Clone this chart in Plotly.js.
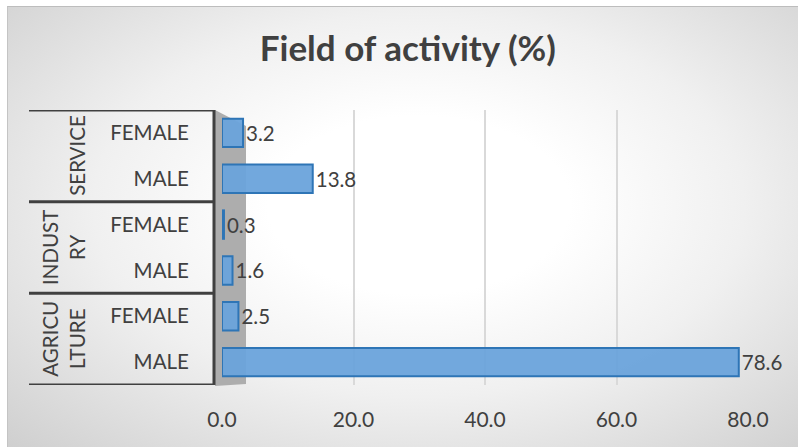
<!DOCTYPE html>
<html>
<head>
<meta charset="utf-8">
<script src="https://cdn.plot.ly/plotly-3.0.1.min.js"></script>
<style>
html,body{margin:0;padding:0;background:#ffffff;}
#wrap{position:relative;width:798px;height:447px;overflow:hidden;}
#bg{position:absolute;left:7px;top:6px;width:791px;height:441px;box-sizing:border-box;
border-top:1px solid #bdbdbd;border-left:1px solid #c4c4c4;
background:radial-gradient(ellipse at 52% 45%, #ffffff 0%, #ffffff 26%, #f0f0f0 56%, #cfcfcf 100%);}
#chart{position:absolute;left:0;top:0;width:798px;height:447px;}
</style>
</head>
<body>
<div id="wrap"><div id="bg"></div><div id="chart"></div></div>
<script>
const sectors = ['AGRICU<br>LTURE', 'INDUST<br>RY', 'SERVICE'];
const genders = ['MALE', 'FEMALE', 'MALE', 'FEMALE', 'MALE', 'FEMALE'];
const values = [78.6, 2.5, 1.6, 0.3, 13.8, 3.2];
const xTicks = [0, 20, 40, 60, 80];
const xTickText = ['0.0', '20.0', '40.0', '60.0', '80.0'];

const rows = genders.map((g, i) => i);
const W = 798, H = 447, L = 222, R = 50, T = 110, B = 62;
const pw = W - L - R, ph = H - T - B;
const px = p => (p - L) / pw;
const py = p => (H - B - p) / ph;
const FONT = 'Lato, sans-serif';
const TXT = '#404040';

const shapes = [];
// back wall (3D side wall)
shapes.push({type:'path', xref:'paper', yref:'paper',
  path:`M ${px(215)},${py(110)} L ${px(246)},${py(126)} L ${px(246)},${py(384)} L ${px(215)},${py(386)} Z`,
  fillcolor:'#adadad', line:{width:0}, layer:'below'});
// table lines
for (let k = 0; k <= sectors.length; k++) {
  const yv = -0.5 + 2*k;
  shapes.push({type:'line', xref:'paper', yref:'y', x0:px(29), x1:px(215), y0:yv, y1:yv,
    line:{color:'#404040', width:3}});
}
shapes.push({type:'line', xref:'paper', yref:'y', x0:px(214), x1:px(214), y0:-0.5, y1:rows.length-0.5,
  line:{color:'#404040', width:3}});

const annotations = sectors.map((s, k) => ({
  xref:'paper', yref:'y', x:px(91), y:2*k+0.5, text:s, showarrow:false, textangle:-90,
  xanchor:'right', yanchor:'middle',
  font:{family:FONT, size:20.5, color:TXT}, align:'center'
}));

const trace = {
  type:'bar', orientation:'h', x:values, y:rows,
  marker:{color:'rgba(106,163,219,0.95)', line:{color:'#2e75b6', width:2}},
  text:values.map(v => v.toFixed(1)), textposition:'outside', cliponaxis:false,
  textfont:{family:FONT, size:20.5, color:TXT},
  hoverinfo:'none'
};

const layout = {
  width:W, height:H,
  margin:{l:L, r:R, t:T, b:B, pad:0},
  paper_bgcolor:'rgba(0,0,0,0)', plot_bgcolor:'rgba(0,0,0,0)',
  title:{text:'<b>Field of activity (%)</b>', x:0.511, xanchor:'center', y:0.89, yanchor:'middle',
    font:{family:FONT, size:35, color:TXT}},
  bargap:0.38,
  showlegend:false,
  xaxis:{range:[0,80], tickvals:xTicks, ticktext:xTickText, showgrid:true, gridcolor:'#d9d9d9', gridwidth:2,
    zeroline:false, showline:false, ticks:'outside', ticklen:16, tickcolor:'rgba(0,0,0,0)',
    tickfont:{family:FONT, size:21, color:TXT}},
  yaxis:{range:[-0.5, rows.length-0.5], tickvals:rows, ticktext:genders, showgrid:false, zeroline:false,
    showline:false, ticks:'outside', ticklen:28, tickcolor:'rgba(0,0,0,0)',
    tickfont:{family:FONT, size:20.5, color:TXT}},
  shapes:shapes, annotations:annotations
};

Plotly.newPlot('chart', [trace], layout, {displayModeBar:false, staticPlot:true});
</script>
</body>
</html>
